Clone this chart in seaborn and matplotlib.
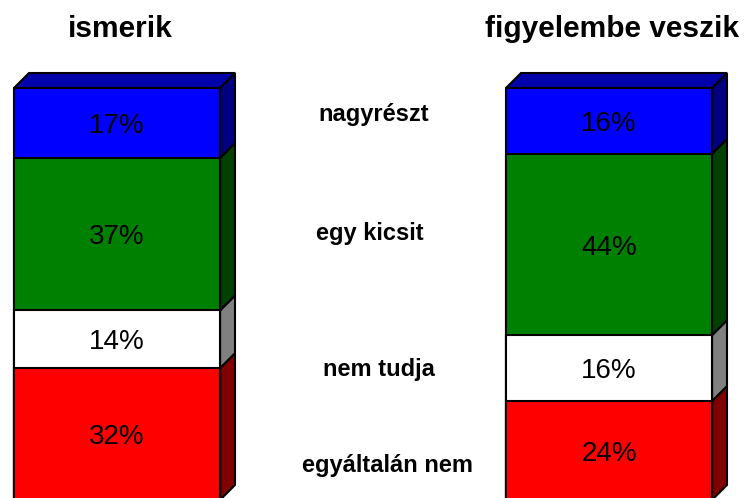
import numpy as np
import pandas as pd
import seaborn as sns
import matplotlib.pyplot as plt
from matplotlib.patches import Polygon

# Data (bottom to top)
groups = ["ismerik", "figyelembe veszik"]
answers = ["egyáltalán nem", "nem tudja", "egy kicsit", "nagyrészt"]
ismerik = [32, 14, 37, 17]
figyelembe = [24, 16, 44, 16]

front_colors = ["#FF0000", "#FFFFFF", "#008000", "#0000FF"]
side_colors = ["#800000", "#808080", "#004000", "#000080"]
top_color = "#0000AA"

sns.set_style("white")
plt.rcParams["font.family"] = ["Liberation Sans", "DejaVu Sans"]
plt.rcParams["text.color"] = "black"

vals = np.array([ismerik, figyelembe])  # shape (group, answer)
tops = vals.cumsum(axis=1)
bottoms = tops - vals

fig = plt.figure(figsize=(7.47, 4.98), dpi=100)
ax = fig.add_axes([0, 0, 1, 1])

# stacked bars by overlaying cumulative totals, top segment first
for i in reversed(range(len(answers))):
    df = pd.DataFrame({"group": groups, "total": tops[:, i]})
    sns.barplot(data=df, x="group", y="total", color=front_colors[i],
                saturation=1, width=0.4187, edgecolor="black", linewidth=1.5,
                ax=ax, zorder=2)

ax.set_xlim(-117 / 492, (747 - 117) / 492)
ax.set_ylim((500 - 498) / 4.12, 500 / 4.12)
ax.axis("off")

# depth offset of the 3D look, 15 px right and up
inv = ax.transData.inverted()
p0 = inv.transform((0, 0))
p1 = inv.transform((15, 15))
dx, dy = p1 - p0

full_bars = ax.patches[:len(groups)]
for g, bar in enumerate(full_bars):
    xl = bar.get_x()
    xr = xl + bar.get_width()
    xc = xl + bar.get_width() / 2
    for i in range(len(answers)):
        b, t = bottoms[g, i], tops[g, i]
        side = Polygon([(xr, b), (xr, t), (xr + dx, t + dy), (xr + dx, b + dy)],
                       closed=True, facecolor=side_colors[i], edgecolor="black",
                       linewidth=1.5, zorder=1)
        ax.add_patch(side)
        ax.text(xc, (b + t) / 2, f"{vals[g, i]}%", ha="center",
                va="center_baseline", fontsize=20, color="black", zorder=3)
    t = tops[g, -1]
    top = Polygon([(xl, t), (xr, t), (xr + dx, t + dy), (xl + dx, t + dy)],
                  closed=True, facecolor=top_color, edgecolor="black",
                  linewidth=1.5, zorder=1)
    ax.add_patch(top)
    ax.text(xc + 0.006, 114.2, groups[g], ha="center", va="center",
            fontsize=21.5, fontweight="bold", color="black")

# category labels between the bars
label_x = [0.549, 0.533, 0.514, 0.521]
label_y = [9.0, 32.3, 65.3, 94.2]
for name, lx, ly in zip(answers, label_x, label_y):
    ax.text(lx, ly, name, ha="center", va="center_baseline", fontsize=17,
            fontweight="bold", color="black")

plt.savefig("out.png", dpi=100)
plt.close()
